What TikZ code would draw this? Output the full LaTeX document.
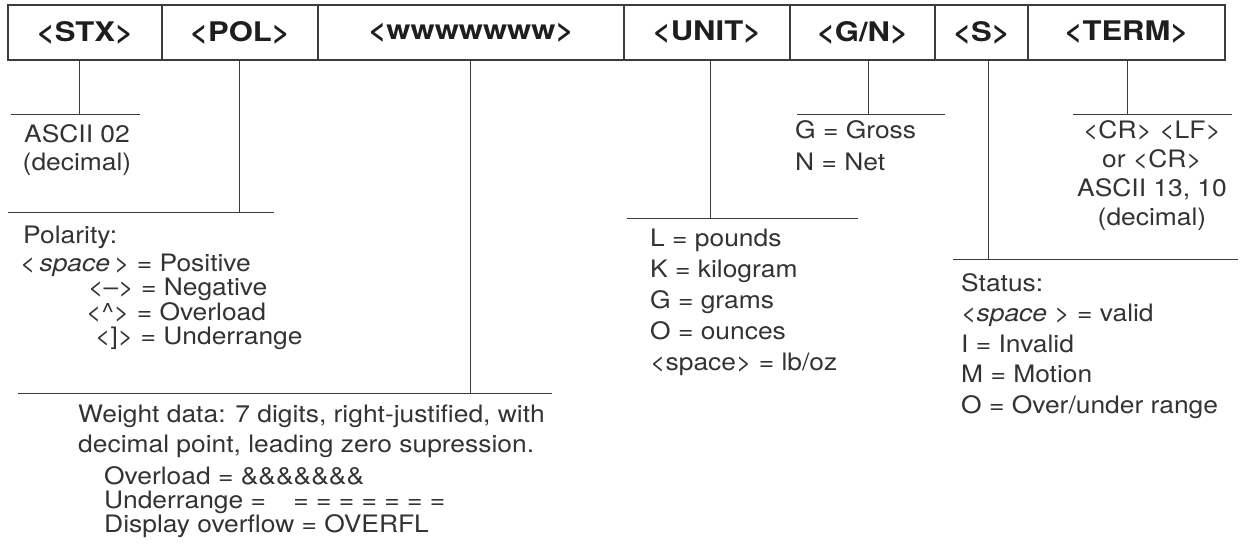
\documentclass[tikz,border=0pt]{standalone}
\usepackage{fontspec}
\setmainfont{TeX Gyre Heros}[FakeStretch=1.1]
\newfontfamily\hdrfont{TeX Gyre Heros}[FakeStretch=1.15]
\usetikzlibrary{positioning}
\definecolor{ink}{HTML}{1E1E1E}
\definecolor{ink2}{HTML}{333333}
\definecolor{rule}{HTML}{3C3C3C}
\tikzset{
  cell/.style={draw=rule, line width=1.3pt, minimum height=55pt, inner sep=0pt, outer sep=0pt, font=\hdrfont\bfseries\fontsize{27}{30}\selectfont, text=ink},
  lead/.style={draw=rule, line width=1pt},
  desc/.style={inner sep=0pt, text=ink2, align=left, font=\fontsize{24}{#1}\selectfont},
  desc/.default=29,
}

\begin{document}
\begin{tikzpicture}[x=1pt, y=-1pt]
  \useasboundingbox (0,0) rectangle (1242,547);
  % header row
  \node[cell, minimum width=154pt, anchor=north west] (stx) at (8,5) {<STX>};
  \node[cell, minimum width=156pt, right=0pt of stx] (pol) {<POL>};
  \node[cell, minimum width=306pt, right=0pt of pol] (wt) {<wwwwwww>};
  \node[cell, minimum width=166pt, right=0pt of wt] (unit) {<UNIT>};
  \node[cell, minimum width=145pt, right=0pt of unit] (gn) {<G/N>};
  \node[cell, minimum width=93pt, right=0pt of gn] (st) {<S>};
  \node[cell, minimum width=197pt, right=0pt of st] (term) {<TERM>};
  % bars under the fields
  \coordinate (stxL) at (11,114);   \coordinate (stxR) at (140,114);   \coordinate (stxT) at (79,114);
  \coordinate (polL) at (8,212);    \coordinate (polR) at (274,212);   \coordinate (polT) at (239,212);
  \coordinate (wtL) at (18,393);    \coordinate (wtR) at (552,393);    \coordinate (wtT) at (470,393);
  \coordinate (unitL) at (627,218); \coordinate (unitR) at (858,218);  \coordinate (unitT) at (710,218);
  \coordinate (gnL) at (797,114);   \coordinate (gnR) at (945,114);    \coordinate (gnT) at (868,114);
  \coordinate (stL) at (953,259);   \coordinate (stR) at (1238,259);   \coordinate (stT) at (988,259);
  \coordinate (termL) at (1073,114); \coordinate (termR) at (1232,114); \coordinate (termT) at (1127,114);
  \draw[lead] (stxL) -- (stxR);   \draw[lead] (stx.south -| stxT) -- (stxT);
  \draw[lead] (polL) -- (polR);   \draw[lead] (pol.south -| polT) -- (polT);
  \draw[lead] (wtL) -- (wtR);     \draw[lead] (wt.south -| wtT) -- (wtT);
  \draw[lead] (unitL) -- (unitR); \draw[lead] (unit.south -| unitT) -- (unitT);
  \draw[lead] (gnL) -- (gnR);     \draw[lead] (gn.south -| gnT) -- (gnT);
  \draw[lead] (stL) -- (stR);     \draw[lead] (st.south -| stT) -- (stT);
  \draw[lead] (termL) -- (termR); \draw[lead] (term.south -| termT) -- (termT);
  % field descriptions
  \node[desc=28, align=center, anchor=north] (stxd) at (77,124) {ASCII 02\\(decimal)};
  \node[desc=24.5, anchor=north west] (pold) at (20,226)
    {\hspace*{3pt}Polarity:\\[3pt]<\,\textit{space}\,> = Positive\\\hspace*{68pt}<--> = Negative\\\hspace*{66pt}<\textasciicircum> = Overload\\\hspace*{75pt}<]> = Underrange};
  \node[desc=24, anchor=north west] (wtd) at (78,405)
    {Weight data: 7 digits, right-justified, with\\[6pt]decimal point, leading zero supression.\\[8pt]\hspace*{26pt}Overload = \&\&\&\&\&\&\&\\\hspace*{26pt}Underrange = \hspace*{20pt}= = = = = = =\\\hspace*{26pt}Display overflow = OVERFL};
  \node[desc=31, anchor=north west] (unitd) at (650,229)
    {L = pounds\\K = kilogram\\G = grams\\O = ounces\\<space> = lb/oz};
  \node[desc=32, anchor=north west] (gnd) at (795,120) {G = Gross\\N = Net};
  \node[desc=30.5, anchor=north west] (std) at (961,273)
    {Status:\\<\textit{space} > = valid\\I = Invalid\\M = Motion\\O = Over/under range};
  \node[desc=29, align=center, anchor=north] (termd) at (1152,120)
    {<CR> <LF>\\or <CR>\\ASCII 13, 10\\(decimal)};
\end{tikzpicture}
\end{document}
